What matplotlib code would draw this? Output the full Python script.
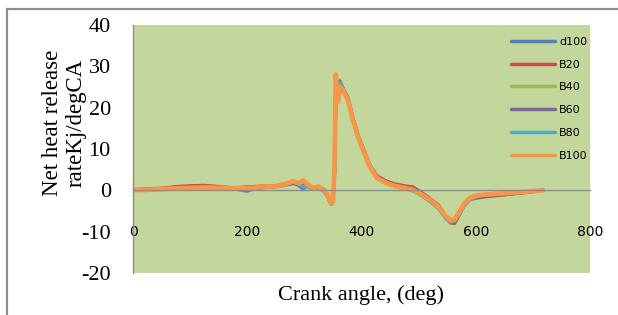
import matplotlib
matplotlib.use("Agg")
import matplotlib.pyplot as plt
from matplotlib.patches import Rectangle

angles = [0, 25, 50, 75, 100, 125, 150, 175, 200, 210, 225, 250, 265, 280, 290, 298, 305, 315, 325, 335,
          342, 347, 350, 353, 355, 357, 359, 362, 366, 370, 376, 385, 395, 403, 415, 427, 444, 460, 475, 490,
          505, 520, 535, 548, 556, 563, 570, 580, 590, 605, 620, 640, 660, 680, 700, 718]

d100 = [0.1, 0.2, 0.4, 0.7, 0.9, 0.8, 0.6, 0.4, -0.2, 0.3, 0.6, 0.9, 1.2, 1.8, 1.2, 0.3, 1.3, 0.3, 0.6, -0.3,
        -1.8, -3.4, -2.8, 4.5, 24.0, 23.0, 24.5, 26.0, 25.0, 23.8, 22.3, 17.3, 12.8, 9.9, 5.8, 3.2, 1.9, 1.2, 0.7, 0.2,
        -1.2, -2.6, -4.3, -6.8, -7.8, -7.6, -6.0, -3.6, -2.2, -1.8, -1.5, -1.2, -0.9, -0.6, -0.3, 0.0]
B20 = [0.2, 0.3, 0.5, 0.9, 1.1, 1.2, 0.9, 0.6, 0.8, 0.9, 1.0, 1.1, 1.3, 1.9, 1.5, 1.5, 1.2, 0.5, 0.7, -0.2,
       -1.6, -3.3, -2.6, 5.0, 25.0, 22.8, 24.0, 26.5, 25.2, 24.0, 22.5, 17.5, 12.9, 10.2, 6.0, 3.5, 2.2, 1.5, 1.1, 0.8,
       -0.5, -2.0, -3.6, -6.6, -7.9, -8.0, -6.3, -3.5, -1.7, -1.6, -1.4, -1.2, -0.9, -0.6, -0.3, 0.0]
B40 = [0.0, 0.1, 0.3, 0.5, 0.6, 0.7, 0.6, 0.6, 0.6, 0.7, 0.9, 1.1, 1.6, 2.0, 1.8, 2.0, 1.6, 0.8, 0.9, 0.0,
       -1.5, -3.0, -2.4, 5.5, 26.0, 22.5, 23.5, 25.5, 24.8, 23.6, 22.1, 17.1, 12.6, 9.8, 5.7, 3.1, 1.8, 0.9, 0.4, -0.1,
       -1.1, -2.4, -4.1, -6.4, -7.4, -7.1, -5.6, -3.2, -1.7, -1.1, -0.9, -0.7, -0.5, -0.4, -0.2, 0.0]
B60 = [0.0, 0.2, 0.3, 0.6, 0.7, 0.8, 0.7, 0.5, 0.4, 0.5, 0.7, 1.0, 1.3, 1.6, 1.4, 1.2, 1.2, 0.4, 0.6, -0.2,
       -1.7, -3.3, -2.7, 5.2, 25.5, 22.8, 24.0, 26.0, 25.0, 23.9, 22.4, 17.3, 12.7, 9.9, 5.8, 3.3, 2.0, 1.3, 0.8, 0.2,
       -1.1, -2.5, -4.2, -6.7, -7.6, -7.4, -5.9, -3.5, -2.0, -1.4, -1.2, -1.0, -0.8, -0.5, -0.3, 0.0]
B80 = [0.0, 0.1, 0.2, 0.5, 0.6, 0.6, 0.5, 0.4, 0.3, 0.4, 0.7, 1.0, 1.5, 1.9, 1.6, 0.8, 0.9, 0.2, 0.5, -0.3,
       -1.9, -3.4, -2.9, 4.8, 24.5, 23.5, 25.0, 26.2, 25.3, 24.0, 22.4, 17.4, 12.8, 10.0, 5.9, 3.2, 1.9, 1.0, 0.5, -0.1,
       -1.3, -2.7, -4.4, -6.8, -7.7, -7.5, -6.1, -3.7, -2.1, -1.3, -1.0, -0.8, -0.6, -0.4, -0.2, 0.0]
B100 = [0.0, 0.1, 0.3, 0.5, 0.6, 0.7, 0.6, 0.5, 0.5, 0.6, 0.8, 1.0, 1.4, 2.2, 1.7, 2.4, 1.5, 0.6, 0.9, 0.0,
        -1.5, -3.2, -2.5, 6.0, 28.0, 22.5, 21.5, 25.0, 24.5, 23.5, 22.0, 17.0, 12.5, 9.7, 5.6, 3.0, 1.7, 1.0, 0.6, 0.1,
        -1.0, -2.3, -4.0, -6.3, -7.3, -7.0, -5.5, -3.2, -1.8, -1.2, -1.0, -0.8, -0.6, -0.4, -0.2, 0.0]

series_names = ["d100", "B20", "B40", "B60", "B80", "B100"]
series_values = [d100, B20, B40, B60, B80, B100]
colors = ["#4F81BD", "#C0504D", "#9BBB59", "#8064A2", "#4BACC6", "#F79646"]
widths = [2.4, 2.4, 2.4, 2.4, 2.4, 3.4]

x_ticks = [0, 200, 400, 600, 800]
y_ticks = [-20, -10, 0, 10, 20, 30, 40]

W, H = 618, 315
fig = plt.figure(figsize=(W / 100, H / 100), dpi=100)
fig.patch.set_facecolor("white")

# outer frame
fig.patches.append(Rectangle((7 / W, -0.1), 1.2, 1 - 9 / H + 0.1, transform=fig.transFigure,
                             fill=False, edgecolor="#8c8c8c", linewidth=1.6, zorder=0))

ax = fig.add_axes([133 / W, 1 - 273 / H, (590 - 133) / W, (273 - 25) / H])
ax.set_facecolor("#C3D69B")

for name, vals, c, lw in zip(series_names, series_values, colors, widths):
    ax.plot(angles, vals, color=c, lw=lw, label=name, solid_capstyle="round", solid_joinstyle="round")

ax.set_xlim(0, 800)
ax.set_ylim(-20, 40)
ax.set_xticks(x_ticks)
ax.set_yticks(y_ticks)

serif = "Liberation Serif"
ax.set_xticklabels([str(v) for v in x_ticks], fontfamily=serif, fontsize=16)
ax.set_yticklabels([str(v) for v in y_ticks], fontfamily=serif, fontsize=16)

ax.spines["top"].set_visible(False)
ax.spines["right"].set_visible(False)
ax.spines["bottom"].set_position(("data", 0))
ax.spines["bottom"].set_color("#8a8aa8")
ax.spines["bottom"].set_linewidth(1.0)
ax.spines["left"].set_color("#8c8c8c")
ax.spines["left"].set_linewidth(1.0)
ax.tick_params(axis="x", length=0, pad=25)
ax.tick_params(axis="y", length=0, pad=16)

fig.text(64 / W, 1 - 123 / H, "Net heat release\nrateKj/degCA", rotation=90, ha="center", va="center",
         multialignment="center", fontfamily=serif, fontsize=16.5, linespacing=1.15)
fig.text(361 / W, 1 - 295 / H, "Crank angle, (deg)", ha="center", va="center", fontfamily=serif, fontsize=16)

leg = ax.legend(loc="upper left", bbox_to_anchor=((508 - 133) / (590 - 133) - 0.01, 1 - 4 / 248),
                frameon=False, prop={"family": "DejaVu Sans", "size": 8}, handlelength=3.9,
                handletextpad=0.4, labelspacing=1.15, borderpad=0.2)
for line in leg.get_lines():
    line.set_linewidth(2.5)

fig.savefig("out.png", dpi=100)
